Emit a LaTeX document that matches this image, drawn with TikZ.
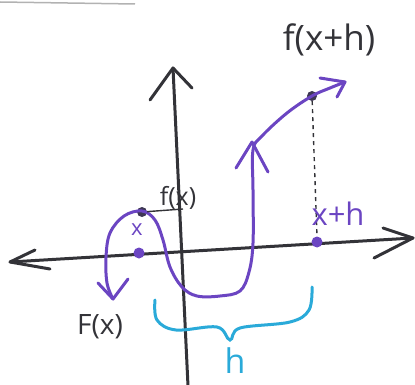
\documentclass[tikz,border=0pt]{standalone}
\usepackage{fontspec}
\setmainfont{Open Sans}
\definecolor{ink}{HTML}{333338}
\definecolor{purp}{HTML}{6B45C2}
\definecolor{cyanb}{HTML}{2AAAD9}
\begin{document}
\begin{tikzpicture}[x=1pt,y=-1pt,
  axis/.style={draw=ink,line width=3pt,line cap=round,line join=round},
  curve/.style={draw=purp,line width=3pt,line cap=round,line join=round},
  dotp/.style={circle,fill=purp,inner sep=0pt,minimum size=11pt},
  dotd/.style={circle,fill=ink!80!purp,inner sep=0pt,minimum size=10pt},
  lbl/.style={text=ink,inner sep=0pt},
  plbl/.style={text=purp,inner sep=0pt}]
\useasboundingbox (0,0) rectangle (415,385);
% stray stroke at top
\draw[gray!60,line width=1.5pt] (0,2) -- (135,4);
% axes
\coordinate (xl) at (10,262);
\coordinate (xr) at (413,238);
\coordinate (yb) at (188,386);
\coordinate (yt) at (173,68);
\draw[axis] (xl) -- (xr);
\draw[axis] (35,250) -- (xl) -- (50,269);
\draw[axis] (383,228) -- (xr) -- (374,258);
\draw[axis] (yb) -- (yt);
\draw[axis] (150,100) -- (yt) -- (192,88);
% points
\node[dotd] (fx) at (142,212) {};
\node[dotp] (x) at (139,253) {};
\node[dotp] (xh) at (317,242) {};
\node[dotd] (fxh) at (312,96) {};
% dashed drop
\draw[ink,line width=1.4pt,dash pattern=on 4pt off 4pt] (fxh) -- (xh.north);
% curve
\draw[curve] plot[smooth,tension=0.6] coordinates {(113,299) (107,283) (106,257) (110,233) (124,216) (142,211) (155,220) (163,240) (170,267) (182,287) (197,296) (220,296) (240,291) (249,272) (253,243) (253,190) (253,150) (262,136) (287,113) (312,96) (330,88) (345,82)};
% arrow marks on curve
\draw[curve] (98,283) -- (113,299) -- (128,279);
\draw[curve] (236,168) -- (252,142) -- (268,172);
\draw[curve] (320,78) -- (345,82) -- (337,97);
% leader from f(x) dot
\draw[ink,line width=1.4pt] (fx) -- (183,209);
% brace
\draw[cyanb,line width=3pt,line cap=round] plot[smooth,tension=0.6] coordinates {(155,300) (157,320) (176,330) (217,327) (230,340) (240,328) (290,322) (309,310) (312,287)};
% labels
\node[lbl,font=\fontsize{25}{25}\selectfont] (lfx) at (178,198) {f(x)};
\node[plbl,font=\fontsize{22}{22}\selectfont] (lx) at (137,230) {x};
\node[plbl,font=\fontsize{31}{31}\selectfont] (lxh) at (338,214) {x+h};
\node[lbl,font=\fontsize{35}{35}\selectfont] (lfxh) at (329,40) {f(x+h)};
\node[lbl,font=\fontsize{28}{28}\selectfont] (lFx) at (100,327) {F(x)};
\node[text=cyanb,inner sep=0pt,font=\fontsize{34}{34}\selectfont] (lh) at (235,361) {h};
\end{tikzpicture}
\end{document}
